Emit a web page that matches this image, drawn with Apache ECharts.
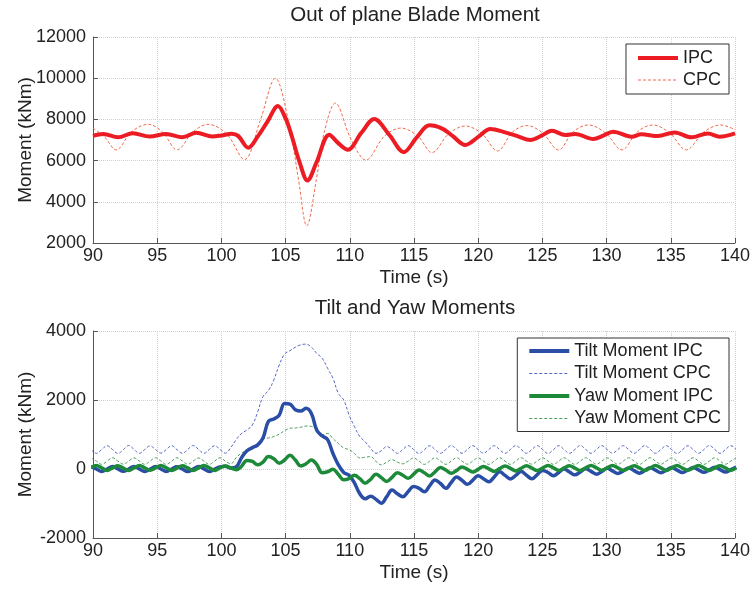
<!DOCTYPE html>
<html>
<head>
<meta charset="utf-8">
<script src="https://cdn.jsdelivr.net/npm/echarts@6/dist/echarts.min.js"></script>
<style>
html,body{margin:0;padding:0;background:#fff;}
#chart{width:753px;height:590px;}
</style>
</head>
<body>
<div id="chart"></div>
<script>
// ---------- Top plot: Out of plane Blade Moment ----------
const ipcTime = [90.0, 90.8, 91.96, 93.1, 94.4, 95.7, 96.96, 98.05, 99.3, 100.0, 100.8, 101.3, 102.1, 102.85, 103.6, 104.4, 105.0, 105.45, 106.1, 106.7, 107.4, 108.4, 109.1, 109.85, 110.9, 111.9, 113.1, 114.2, 115.2, 116.2, 117.2, 118.0, 119.0, 120.0, 120.95, 122.1, 123.0, 124.06, 124.9, 125.74, 126.78, 127.55, 128.97, 129.7, 130.5, 131.95, 132.7, 134.0, 135.3, 136.6, 137.9, 138.8, 140.0];
const ipcValues = [7200, 7290, 7130, 7330, 7170, 7290, 7130, 7350, 7170, 7220, 7300, 7200, 6620, 7190, 7900, 8650, 8050, 7250, 5900, 5040, 5900, 7260, 6850, 6530, 7350, 8020, 7230, 6410, 7110, 7710, 7550, 7200, 6760, 7150, 7530, 7370, 7200, 7000, 7200, 7450, 7240, 7290, 7050, 7200, 7400, 7160, 7275, 7190, 7370, 7130, 7320, 7160, 7320];

const cpcTime = [90.0, 90.9, 91.8, 93.0, 94.3, 95.4, 96.55, 97.8, 98.95, 100.4, 101.8, 103.0, 104.2, 105.3, 106.0, 106.65, 107.4, 108.0, 108.87, 110.1, 111.25, 112.7, 113.97, 115.3, 116.4, 117.7, 119.0, 120.3, 121.5, 122.7, 123.8, 125.0, 126.26, 127.4, 128.6, 129.9, 131.2, 132.4, 133.6, 134.9, 136.2, 137.6, 138.9, 140.0];
const cpcValues = [7570, 7150, 6520, 7400, 7760, 7400, 6520, 7400, 7760, 7300, 6050, 7900, 9990, 7680, 5100, 2830, 5100, 7355, 8790, 7030, 6030, 7190, 7580, 7190, 6390, 7300, 7680, 7300, 6470, 7400, 7700, 7350, 6520, 7400, 7730, 7350, 6520, 7400, 7730, 7350, 6520, 7400, 7730, 7500];

// ---------- Bottom plot: Tilt and Yaw Moments ----------
const bottomTime = [
 89.84, 90.26, 90.68, 91.10, 91.52, 91.94, 92.36, 92.78, 93.19, 93.61,
 94.03, 94.45, 94.87, 95.29, 95.71, 96.13, 96.54, 96.96, 97.38, 97.80,
 98.22, 98.64, 99.06, 99.48, 99.89, 100.31, 100.73, 101.15, 101.57, 101.99,
 102.41, 102.83, 103.24, 103.66, 104.08, 104.50, 104.92, 105.34, 105.76, 106.18,
 106.59, 107.01, 107.43, 107.85, 108.27, 108.69, 109.11, 109.53, 109.94, 110.36,
 110.78, 111.20, 111.62, 112.04, 112.46, 112.88, 113.29, 113.71, 114.13, 114.55,
 114.97, 115.39, 115.81, 116.23, 116.64, 117.06, 117.48, 117.90, 118.32, 118.74,
 119.16, 119.58, 119.99, 120.41, 120.83, 121.25, 121.67, 122.09, 122.51, 122.93,
 123.34, 123.76, 124.18, 124.60, 125.02, 125.44, 125.86, 126.28, 126.69, 127.11,
 127.53, 127.95, 128.37, 128.79, 129.21, 129.63, 130.04, 130.46, 130.88, 131.30,
 131.72, 132.14, 132.56, 132.98, 133.39, 133.81, 134.23, 134.65, 135.07, 135.49,
 135.91, 136.33, 136.74, 137.16, 137.58, 138.00, 138.42, 138.84, 139.26, 139.68,
 140.09];

const tiltIPC = [
 70, 0, -70, 0, 70, 5, -65, 0, 75, 0,
 -70, -5, 70, 0, -70, 0, 65, 0, -75, 0,
 70, 5, -70, 0, 60, 80, 30, 60, 330, 530,
 620, 700, 900, 1380, 1450, 1560, 1900, 1880, 1720, 1680,
 1760, 1610, 1120, 960, 850, 450, 120, -100, -180, -400,
 -720, -860, -790, -880, -990, -800, -610, -720, -805, -650,
 -510, -560, -660, -480, -320, -420, -560, -390, -230, -330,
 -445, -320, -195, -280, -370, -230, -80, -185, -290, -185,
 -75, -180, -285, -160, -40, -100, -195, -100, 0, -85,
 -170, -85, 10, -70, -150, -70, 20, -55, -130, -55,
 30, -45, -120, -45, 35, -35, -110, -35, 40, -30,
 -100, -30, 45, -25, -95, -25, 50, -20, -90, -20,
 55];

const tiltCPC = [
 565, 455, 565, 675, 565, 450, 560, 680, 570, 455,
 565, 670, 565, 460, 565, 675, 560, 455, 565, 680,
 570, 455, 565, 675, 565, 460, 620, 850, 1030, 1130,
 1275, 1660, 2100, 2270, 2580, 3010, 3330, 3430, 3530, 3600,
 3620, 3530, 3350, 3210, 2920, 2630, 2190, 2000, 1570, 1230,
 940, 790, 600, 455, 530, 650, 565, 455, 565, 675,
 565, 450, 560, 675, 565, 455, 565, 680, 570, 455,
 565, 675, 565, 460, 565, 675, 560, 455, 565, 680,
 570, 455, 565, 675, 565, 450, 560, 675, 565, 455,
 565, 680, 570, 455, 565, 675, 565, 460, 565, 675,
 560, 455, 565, 680, 570, 455, 565, 675, 565, 450,
 560, 675, 565, 455, 565, 680, 570, 455, 565, 675,
 565];

const yawIPC = [
 30, 100, 30, -40, 30, 95, 25, -40, 30, 100,
 30, -35, 30, 100, 30, -40, 25, 95, 30, -40,
 30, 100, 30, -40, 30, 90, 30, -20, 80, 250,
 220, 120, 200, 360, 300, 170, 260, 400, 260, 90,
 150, 260, 130, -110, -80, -10, -160, -310, -280, -180,
 -280, -410, -300, -150, -250, -360, -240, -110, -180, -270,
 -150, -30, -110, -200, -80, 40, -30, -120, -40, 60,
 -10, -90, -10, 75, 5, -70, 10, 90, 20, -55,
 20, 95, 25, -45, 30, 100, 30, -40, 30, 95,
 25, -40, 30, 100, 30, -35, 30, 100, 30, -40,
 25, 95, 30, -40, 30, 100, 30, -40, 30, 100,
 25, -35, 30, 100, 30, -40, 30, 95, 30, -40,
 30];

const yawCPC = [
 325, 230, 135, 230, 325, 230, 140, 230, 320, 230,
 135, 230, 325, 230, 135, 230, 325, 230, 140, 230,
 320, 230, 135, 230, 325, 230, 150, 330, 460, 540,
 580, 690, 870, 900, 940, 1010, 1110, 1180, 1190, 1210,
 1245, 1235, 1150, 990, 1030, 880, 740, 610, 560, 450,
 320, 340, 360, 220, 120, 200, 270, 200, 150, 230,
 320, 230, 135, 230, 325, 230, 135, 230, 325, 230,
 140, 230, 320, 230, 135, 230, 325, 230, 135, 230,
 325, 230, 140, 230, 320, 230, 135, 230, 325, 230,
 135, 230, 325, 230, 140, 230, 320, 230, 135, 230,
 325, 230, 135, 230, 325, 230, 140, 230, 320, 230,
 135, 230, 325, 230, 135, 230, 325, 230, 140, 230,
 320];

const xTicks = {min: 90, max: 140, interval: 5};
const topY = {min: 2000, max: 12000, interval: 2000};
const botY = {min: -2000, max: 4000, interval: 2000};

function pairs(ts, vs){ return ts.map((t, i) => [t, vs[i]]); }

const FONT = "'Liberation Sans', Arial, sans-serif";
const chart = echarts.init(document.getElementById('chart'), null, {renderer: 'canvas'});

function xAxisCfg(gi){
  return {
    type: 'value', gridIndex: gi, min: xTicks.min, max: xTicks.max, interval: xTicks.interval,
    name: 'Time (s)', nameLocation: 'middle', nameGap: 25, nameMoveOverlap: false,
    nameTextStyle: {fontSize: 19, color: '#222', fontFamily: FONT},
    axisLine: {show: true, onZero: false, lineStyle: {color: '#555', width: 1}},
    axisTick: {show: true, inside: true, length: 5, lineStyle: {color: '#555'}},
    axisLabel: {fontSize: 18, color: '#222', fontFamily: FONT, margin: 4, formatter: v => String(v)},
    splitLine: {show: true, lineStyle: {color: '#d0d0d0', type: 'dotted', width: 1}}
  };
}
function yAxisCfg(gi, r){
  return {
    type: 'value', gridIndex: gi, min: r.min, max: r.max, interval: r.interval,
    name: 'Moment (kNm)', nameLocation: 'middle', nameGap: 58, nameMoveOverlap: false,
    nameTextStyle: {fontSize: 19, color: '#222', fontFamily: FONT},
    axisLine: {show: true, lineStyle: {color: '#555', width: 1}},
    axisTick: {show: true, inside: true, length: 5, lineStyle: {color: '#555'}},
    axisLabel: {fontSize: 18, color: '#222', fontFamily: FONT, margin: 7, formatter: v => String(v)},
    splitLine: {show: true, lineStyle: {color: '#d0d0d0', type: 'dotted', width: 1}}
  };
}

const legendCommon = {
  orient: 'vertical', right: 24,
  backgroundColor: '#fff', borderColor: '#333', borderWidth: 1, borderRadius: 0,
  itemWidth: 40, itemHeight: 18,
  itemStyle: {opacity: 0},
  textStyle: {fontSize: 18, color: '#222', fontFamily: FONT}
};
const thickLeg = {width: 4};
const thinLeg = {width: 1};

const option = {
  animation: false,
  backgroundColor: '#fff',
  textStyle: {fontFamily: FONT},
  grid: [
    {left: 93, right: 16, top: 37, height: 206},
    {left: 93, right: 16, top: 331, height: 207}
  ],
  xAxis: [xAxisCfg(0), xAxisCfg(1)],
  yAxis: [yAxisCfg(0, topY), yAxisCfg(1, botY)],
  graphic: [
    {type: 'text', x: 415, y: 15, style: {text: 'Out of plane Blade Moment', font: "20.5px " + FONT, fill: '#222', textAlign: 'center', textVerticalAlign: 'middle'}},
    {type: 'text', x: 415, y: 308, style: {text: 'Tilt and Yaw Moments', font: "20.5px " + FONT, fill: '#222', textAlign: 'center', textVerticalAlign: 'middle'}}
  ],
  legend: [
    Object.assign({}, legendCommon, {
      data: [{name: 'IPC', lineStyle: thickLeg}, {name: 'CPC', lineStyle: thinLeg}],
      top: 44, padding: [5, 8, 5, 10], itemGap: 4
    }),
    Object.assign({}, legendCommon, {
      data: [{name: 'Tilt Moment IPC', lineStyle: thickLeg}, {name: 'Tilt Moment CPC', lineStyle: thinLeg},
             {name: 'Yaw Moment IPC', lineStyle: thickLeg}, {name: 'Yaw Moment CPC', lineStyle: thinLeg}],
      top: 338, padding: [4, 8, 4, 10], itemGap: 4.5
    })
  ],
  series: [
    {name: 'IPC', type: 'line', xAxisIndex: 0, yAxisIndex: 0, data: pairs(ipcTime, ipcValues),
     smooth: 0.35, symbol: 'none', lineStyle: {color: '#ec1c24', width: 4}, itemStyle: {color: '#ec1c24'}, z: 3},
    {name: 'CPC', type: 'line', xAxisIndex: 0, yAxisIndex: 0, data: pairs(cpcTime, cpcValues),
     smooth: 0.35, symbol: 'none', lineStyle: {color: '#f26a4a', width: 1, type: [3, 2]}, itemStyle: {color: '#f26a4a'}, z: 2},
    {name: 'Tilt Moment IPC', type: 'line', xAxisIndex: 1, yAxisIndex: 1, data: pairs(bottomTime, tiltIPC),
     smooth: 0.4, symbol: 'none', lineStyle: {color: '#2a4ea6', width: 3.5}, itemStyle: {color: '#2a4ea6'}, z: 3},
    {name: 'Tilt Moment CPC', type: 'line', xAxisIndex: 1, yAxisIndex: 1, data: pairs(bottomTime, tiltCPC),
     smooth: 0.4, symbol: 'none', lineStyle: {color: '#5468c0', width: 1, type: [3, 2]}, itemStyle: {color: '#5468c0'}, z: 2},
    {name: 'Yaw Moment IPC', type: 'line', xAxisIndex: 1, yAxisIndex: 1, data: pairs(bottomTime, yawIPC),
     smooth: 0.4, symbol: 'none', lineStyle: {color: '#1d8a3a', width: 3.5}, itemStyle: {color: '#1d8a3a'}, z: 4},
    {name: 'Yaw Moment CPC', type: 'line', xAxisIndex: 1, yAxisIndex: 1, data: pairs(bottomTime, yawCPC),
     smooth: 0.4, symbol: 'none', lineStyle: {color: '#4c9e5c', width: 1, type: [3, 2]}, itemStyle: {color: '#4c9e5c'}, z: 2}
  ]
};
chart.setOption(option);
</script>
</body>
</html>
